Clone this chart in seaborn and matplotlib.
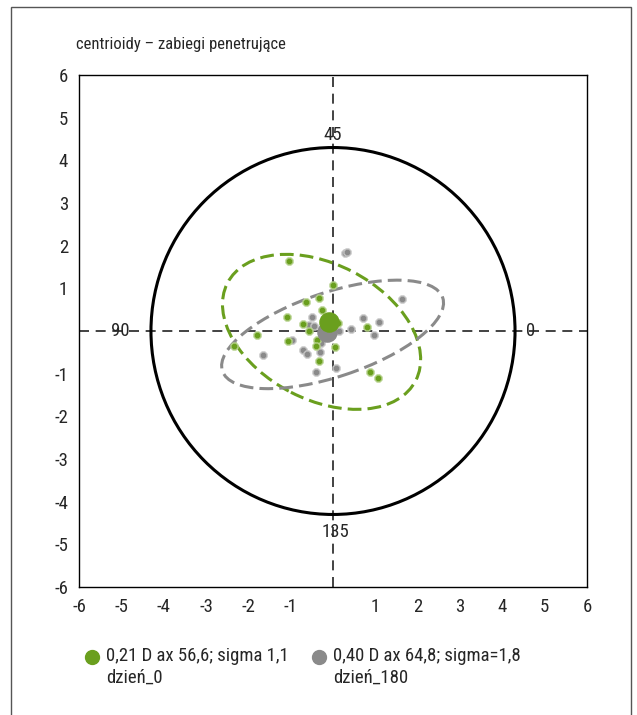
import numpy as np
import pandas as pd
import matplotlib
matplotlib.use('Agg')
import matplotlib.pyplot as plt
from matplotlib import font_manager
from matplotlib.patches import Ellipse, Circle, Rectangle
from matplotlib.lines import Line2D
import seaborn as sns

# data
green_x = [-1.03, 0.01, -0.64, -0.32, -0.25, -1.08, -0.70, -0.57, 0.11, -1.79,
           -2.34, -1.06, -0.38, -0.39, 0.04, -0.32, 0.80, 0.87, 1.06]
green_y = [1.65, 1.08, 0.68, 0.77, 0.49, 0.33, 0.17, 0.00, 0.19, -0.09,
           -0.34, -0.23, -0.21, -0.36, -0.38, -0.70, 0.09, -0.96, -1.10]
gray_x = [0.28, 0.34, 1.64, -0.50, -0.56, -0.45, 0.70, 1.09, 0.43, 0.15,
          0.97, -0.97, -0.29, -0.72, -0.62, -0.31, -1.66, 0.06, -0.40]
gray_y = [1.82, 1.85, 0.75, 0.33, 0.15, 0.12, 0.30, 0.20, 0.04, 0.01,
          -0.09, -0.21, -0.28, -0.45, -0.53, -0.49, -0.57, -0.87, -0.97]

# centroids
green_centroid = (-0.09, 0.20)
gray_centroid = (-0.14, -0.03)

# ellipses: center, width, height, angle
green_ell = ((-0.27, -0.02), 5.0, 3.18, -27.1)
gray_ell = ((-0.01, -0.08), 5.48, 1.98, 18.2)

circle_r = 4.3
compass_labels = ['0', '45', '90', '135']
ticks = [-6, -5, -4, -3, -2, -1, 1, 2, 3, 4, 5, 6]
legend_labels = ['0,21 D ax 56,6; sigma 1,1\ndzień_0',
                 '0,40 D ax 64,8; sigma=1,8\ndzień_180']
title = 'centrioidy – zabiegi penetrujące'

GREEN = '#6a9f1e'
GRAY = '#8a8a8a'

sns.set_style('white')

# pick a narrow family if one is around
font = 'DejaVu Sans'
for fam in ['Liberation Sans Narrow', 'Roboto Condensed', 'Open Sans Condensed', 'Roboto']:
    try:
        font_manager.findfont(fam, fallback_to_default=False)
        font = fam
        break
    except Exception:
        pass
plt.rcParams['font.family'] = [font, 'DejaVu Sans']
narrow = 'Narrow' in font or 'Condensed' in font
fs = 13.5 if narrow else 11.5
fs_title = 12 if narrow else 10.5
plt.rcParams['font.size'] = fs

fig = plt.figure(figsize=(6.37, 7.15), dpi=100)
ax = fig.add_axes([79/637, 1-587/715, 508/637, 512/715])

df = pd.concat([
    pd.DataFrame({'x': green_x, 'y': green_y, 'grp': 'dzień_0'}),
    pd.DataFrame({'x': gray_x, 'y': gray_y, 'grp': 'dzień_180'}),
])

ax.axhline(0, color='#222222', lw=1.2, ls=(0, (6, 4)), zorder=1)
ax.axvline(0, color='#222222', lw=1.2, ls=(0, (6, 4)), zorder=1)
ax.add_patch(Circle((0, 0), circle_r, fill=False, ec='black', lw=2.2, zorder=2))

for (c, w, h, a), col in [(green_ell, GREEN), (gray_ell, GRAY)]:
    ax.add_patch(Ellipse(c, w, h, angle=a, fill=False, ec=col, lw=2.2,
                         ls=(0, (4.5, 2)), zorder=3))

sns.scatterplot(data=df[df.grp == 'dzień_180'], x='x', y='y', color=GRAY,
                marker='8', s=30, edgecolor='#c4c4c4', linewidth=1,
                legend=False, ax=ax, zorder=4)
sns.scatterplot(data=df[df.grp == 'dzień_0'], x='x', y='y', color=GREEN,
                marker='8', s=30, edgecolor='#b4d08a', linewidth=1,
                legend=False, ax=ax, zorder=4)

ax.scatter(*gray_centroid, s=190, color=GRAY, zorder=5)
ax.scatter(*green_centroid, s=190, color=GREEN, zorder=6)

ax.text(4.68, 0, compass_labels[0], ha='center', va='center', fontsize=fs)
ax.text(0, 4.6, compass_labels[1], ha='center', va='center', fontsize=fs)
ax.text(-5.03, 0, compass_labels[2], ha='center', va='center', fontsize=fs)
ax.text(0.05, -4.7, compass_labels[3], ha='center', va='center', fontsize=fs)

ax.set_xlim(-6, 6)
ax.set_ylim(-6, 6)
ax.set_xticks(ticks)
ax.set_yticks(ticks)
ax.set_xticklabels([str(t) for t in ticks])
ax.set_yticklabels([str(t) for t in ticks])
ax.tick_params(length=0, labelsize=fs, pad=8)
ax.set_xlabel('')
ax.set_ylabel('')
for s in ax.spines.values():
    s.set_color('black')
    s.set_linewidth(1)

fig.text(76/637, 1-45/715, title, ha='left', va='center', fontsize=fs_title)

# legend
for mx, lab, col in [(92, legend_labels[0], GREEN), (319, legend_labels[1], GRAY)]:
    fig.add_artist(Line2D([mx/637], [1-657/715], marker='o', ms=10, color=col,
                          transform=fig.transFigure))
    fig.text((mx+14)/637, 1-647/715, lab, ha='left', va='top', fontsize=fs,
             linespacing=1.3)

fig.add_artist(Rectangle((11/637, -0.05), 620/637, 0.99+0.05, fill=False,
                         ec='#555555', lw=1, transform=fig.transFigure))

fig.savefig('out.png', dpi=100)
